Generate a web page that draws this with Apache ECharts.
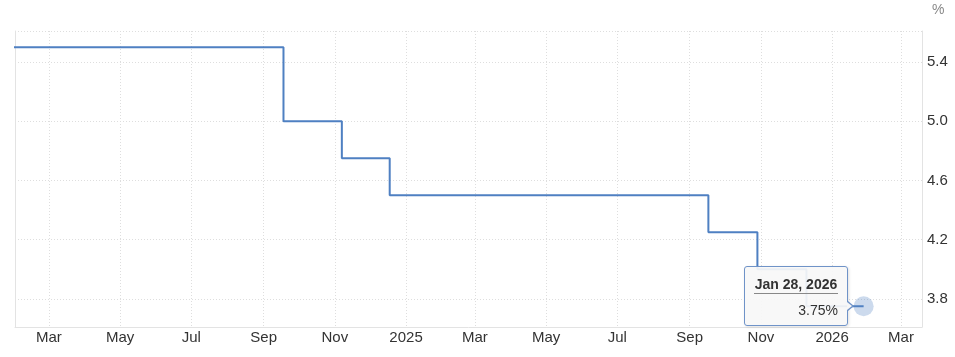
<!DOCTYPE html>
<html>
<head>
<meta charset="utf-8">
<script src="https://cdn.jsdelivr.net/npm/echarts@6/dist/echarts.min.js"></script>
<style>
html,body{margin:0;padding:0;background:#fff;}
#chart{width:955px;height:357px;}
</style>
</head>
<body>
<div id="chart"></div>
<script>
// Meeting dates and policy rate (%)
var dates = ['2024-01-31','2024-03-20','2024-05-01','2024-06-12','2024-07-31','2024-09-18','2024-11-07','2024-12-18',
             '2025-01-29','2025-03-19','2025-05-07','2025-06-18','2025-07-30','2025-09-17','2025-10-29','2025-12-10',
             '2026-01-28'];
var rates = [5.5,5.5,5.5,5.5,5.5,5.0,4.75,4.5,
             4.5,4.5,4.5,4.5,4.5,4.25,4.0,3.75,
             3.75];
// x-axis ticks
var xTickDates = ['2024-03-01','2024-05-01','2024-07-01','2024-09-01','2024-11-01','2025-01-01','2025-03-01',
                  '2025-05-01','2025-07-01','2025-09-01','2025-11-01','2026-01-01','2026-03-01'];
var xTickLabels = ['Mar','May','Jul','Sep','Nov','2025','Mar','May','Jul','Sep','Nov','2026','Mar'];
// y-axis ticks
var yTicks = [3.8, 4.2, 4.6, 5.0, 5.4];
var yMin = 3.61, yMax = 5.61;
var xMin = '2024-02-01', xMax = '2026-03-19';
var monthNames = ['Jan','Feb','Mar','Apr','May','Jun','Jul','Aug','Sep','Oct','Nov','Dec'];

function ts(s){ var p = s.split('-'); return new Date(+p[0], +p[1]-1, +p[2]).getTime(); }

var xTickVals = xTickDates.map(ts);
var lastIdx = dates.length - 1;
var seriesData = dates.map(function(d, i){
  var item = { value: [ts(d), rates[i]] };
  if (i === lastIdx) {
    item.symbol = 'circle';
    item.symbolSize = 20;
    item.itemStyle = { color: 'rgba(85,133,197,0.3)', borderWidth: 0 };
  } else {
    item.symbol = 'none';
  }
  return item;
});

var chart = echarts.init(document.getElementById('chart'), null, {renderer: 'canvas'});
var font = 'Arial, "Liberation Sans", sans-serif';

chart.setOption({
  animation: false,
  textStyle: { fontFamily: font },
  grid: { left: 15, right: 33, top: 31, bottom: 30, show: false },
  tooltip: {
    trigger: 'item',
    alwaysShowContent: true,
    triggerOn: 'none',
    transitionDuration: 0,
    padding: 0,
    borderWidth: 1,
    borderColor: '#6f93c8',
    borderRadius: 3,
    backgroundColor: 'rgba(247,247,247,0.92)',
    extraCssText: 'box-shadow:1px 1px 3px rgba(0,0,0,0.12);',
    position: function(point){ return [point[0] - 120, point[1] - 40]; },
    formatter: function(p){
      var d = new Date(p.value[0]);
      var title = monthNames[d.getMonth()] + ' ' + d.getDate() + ', ' + d.getFullYear();
      var val = p.value[1].toFixed(2) + '%';
      return '<div style="position:relative;width:102px;height:58px;font-family:Arial,\'Liberation Sans\',sans-serif;color:#333;">' +
        '<div style="position:absolute;left:9px;right:9px;top:8px;height:18px;line-height:18px;font-size:14px;font-weight:bold;text-align:center;border-bottom:1px solid #888;white-space:nowrap;">' + title + '</div>' +
        '<div style="position:absolute;right:9px;top:34px;line-height:18px;font-size:14px;">' + val + '</div>' +
        '<div style="position:absolute;right:-7px;top:34px;width:0;height:0;border-top:5px solid transparent;border-bottom:5px solid transparent;border-left:6px solid #6f93c8;"></div>' +
        '<div style="position:absolute;right:-5px;top:35px;width:0;height:0;border-top:4px solid transparent;border-bottom:4px solid transparent;border-left:5px solid #f7f7f7;"></div>' +
        '</div>';
    }
  },
  xAxis: {
    type: 'value',
    min: ts(xMin),
    max: ts(xMax),
    axisLine: { show: true, onZero: false, lineStyle: { color: '#e3e3e3', width: 1 } },
    axisTick: { show: false, customValues: xTickVals },
    axisLabel: {
      customValues: xTickVals,
      color: '#333',
      fontSize: 15,
      fontFamily: font,
      margin: 3,
      formatter: function(v){
        var i = xTickVals.indexOf(v);
        return i >= 0 ? xTickLabels[i] : '';
      }
    },
    splitLine: { show: true, lineStyle: { color: '#dedede', type: [1, 2], width: 1 } }
  },
  yAxis: [{
    type: 'value',
    position: 'right',
    min: yMin,
    max: yMax,
    name: '%',
    nameLocation: 'end',
    nameGap: 14,
    nameTextStyle: { color: '#888', fontSize: 14, align: 'left', padding: [0, 0, 0, 10], fontFamily: font },
    axisLine: { show: true, onZero: false, lineStyle: { color: '#e3e3e3', width: 1 } },
    axisTick: { show: false, customValues: yTicks.concat([yMax]) },
    axisLabel: {
      customValues: yTicks,
      color: '#333',
      fontSize: 15,
      fontFamily: font,
      margin: 5,
      verticalAlign: 'middle',
      padding: [0, 0, 3, 0],
      formatter: function(v){ return v.toFixed(1); }
    },
    splitLine: { show: true, lineStyle: { color: '#dedede', type: [1, 2], width: 1 } }
  }, {
    type: 'value',
    position: 'left',
    min: yMin,
    max: yMax,
    axisLine: { show: true, onZero: false, lineStyle: { color: '#e3e3e3', width: 1 } },
    axisTick: { show: false },
    axisLabel: { show: false },
    splitLine: { show: false }
  }],
  series: [{
    type: 'line',
    step: 'end',
    yAxisIndex: 0,
    data: seriesData,
    showSymbol: true,
    symbol: 'circle',
    lineStyle: { color: '#4f80c2', width: 2 },
    itemStyle: { color: '#4f80c2' },
    emphasis: { disabled: true },
    clip: true
  }]
});

chart.dispatchAction({ type: 'showTip', seriesIndex: 0, dataIndex: lastIdx });
</script>
</body>
</html>
